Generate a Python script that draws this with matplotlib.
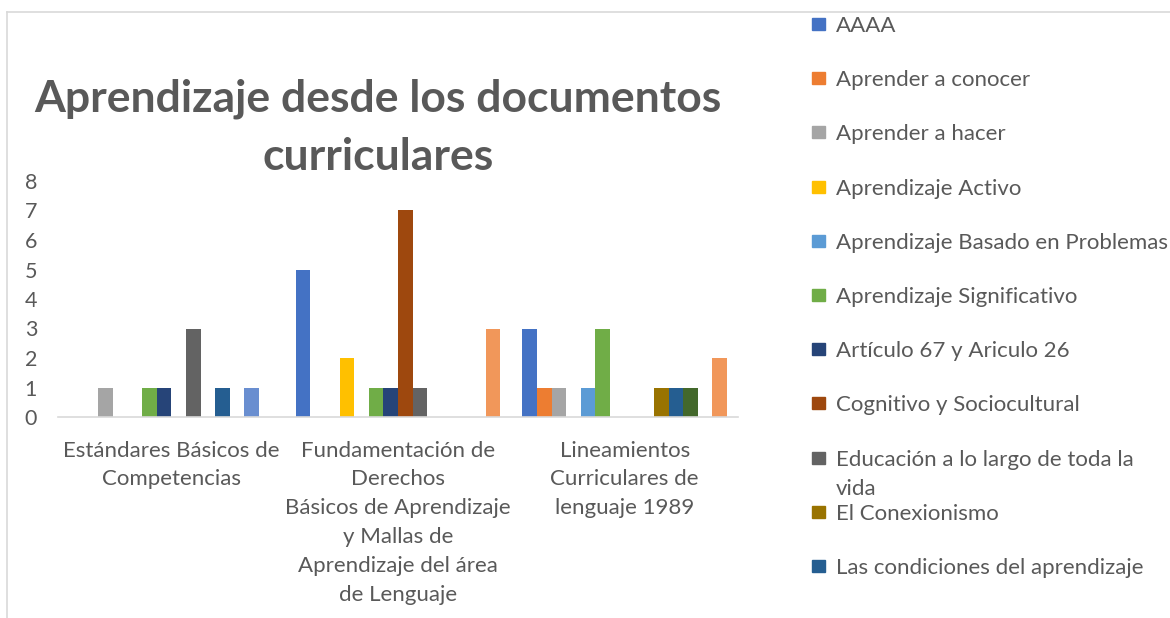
import matplotlib
matplotlib.use('Agg')
import matplotlib.pyplot as plt
from matplotlib.patches import Rectangle
from matplotlib.lines import Line2D
import numpy as np

# datos
categorias = ['Estándares Básicos de\nCompetencias',
              'Fundamentación de\nDerechos\nBásicos de Aprendizaje\ny Mallas de\nAprendizaje del área\nde Lenguaje',
              'Lineamientos\nCurriculares de\nlenguaje 1989']

series = ['AAAA', 'Aprender a conocer', 'Aprender a hacer', 'Aprendizaje Activo',
          'Aprendizaje Basado en Problemas', 'Aprendizaje Significativo',
          'Artículo 67 y Ariculo 26', 'Cognitivo y Sociocultural',
          'Educación a lo largo de toda la\nvida', 'El Conexionismo',
          'Las condiciones del aprendizaje', 'Serie 12', 'Serie 13', 'Serie 14']

valores = [
    [0, 5, 3],   # AAAA
    [0, 0, 1],   # Aprender a conocer
    [1, 0, 1],   # Aprender a hacer
    [0, 2, 0],   # Aprendizaje Activo
    [0, 0, 1],   # Aprendizaje Basado en Problemas
    [1, 1, 3],   # Aprendizaje Significativo
    [1, 1, 0],   # Artículo 67 y Ariculo 26
    [0, 7, 0],   # Cognitivo y Sociocultural
    [3, 1, 0],   # Educación a lo largo de toda la vida
    [0, 0, 1],   # El Conexionismo
    [1, 0, 1],   # Las condiciones del aprendizaje
    [0, 0, 1],   # Serie 12
    [1, 0, 0],   # Serie 13
    [0, 3, 2],   # Serie 14
]

colores = ['#4472C4', '#ED7D31', '#A5A5A5', '#FFC000', '#5B9BD5', '#70AD47',
           '#264478', '#9E480E', '#636363', '#997300', '#255E91', '#43682B',
           '#698ED0', '#F1975A']

texto = '#595959'
fuente = 'Lato'

fig = plt.figure(figsize=(11.7, 6.18), dpi=100)
ax = fig.add_axes([58 / 1170, 1 - 417 / 618, 680 / 1170, 236 / 618])

n = len(series)
w = 1 / 15.5
x = np.arange(len(categorias))
for i in range(n):
    ax.bar(x + (i - (n - 1) / 2) * w, valores[i], width=w, color=colores[i], linewidth=0)

ax.set_xlim(-0.5, len(categorias) - 0.5)
ax.set_ylim(0, 8)
ax.set_yticks(range(0, 9))
ax.set_xticks(x)
ax.set_xticklabels(categorias, fontsize=16, color=texto, family=fuente, linespacing=1.55)
ax.tick_params(axis='both', length=0, colors=texto)
ax.tick_params(axis='x', pad=17)
ax.tick_params(axis='y', pad=15, labelsize=15.5)
for lab in ax.get_yticklabels():
    lab.set_family(fuente)
for s in ['top', 'right', 'left']:
    ax.spines[s].set_visible(False)
ax.spines['bottom'].set_color('#D9D9D9')
ax.spines['bottom'].set_linewidth(1.2)

# título
fig.text(378 / 1170, 1 - 128 / 618, 'Aprendizaje desde los documentos\ncurriculares',
         ha='center', va='center', fontsize=32, fontweight='bold', color=texto,
         family=fuente, linespacing=1.55)

# leyenda (solo las entradas visibles)
for i in range(11):
    yc = 24 + i * 54.2
    fig.patches.append(Rectangle((812 / 1170, 1 - (yc + 6) / 618), 13 / 1170, 12 / 618,
                                 transform=fig.transFigure, color=colores[i]))
    fig.text(836 / 1170, 1 - (yc + 8) / 618, series[i].split('\n')[0], ha='left',
             va='baseline', fontsize=16, color=texto, family=fuente)
    if '\n' in series[i]:
        fig.text(836 / 1170, 1 - (yc + 37) / 618, series[i].split('\n')[1], ha='left',
                 va='baseline', fontsize=16, color=texto, family=fuente)

# borde del gráfico
fig.add_artist(Line2D([7 / 1170, 1], [1 - 12 / 618, 1 - 12 / 618], color='#D9D9D9', lw=1.2))
fig.add_artist(Line2D([7 / 1170, 7 / 1170], [0, 1 - 12 / 618], color='#D9D9D9', lw=1.2))

fig.savefig('out.png', dpi=100, facecolor='white')
